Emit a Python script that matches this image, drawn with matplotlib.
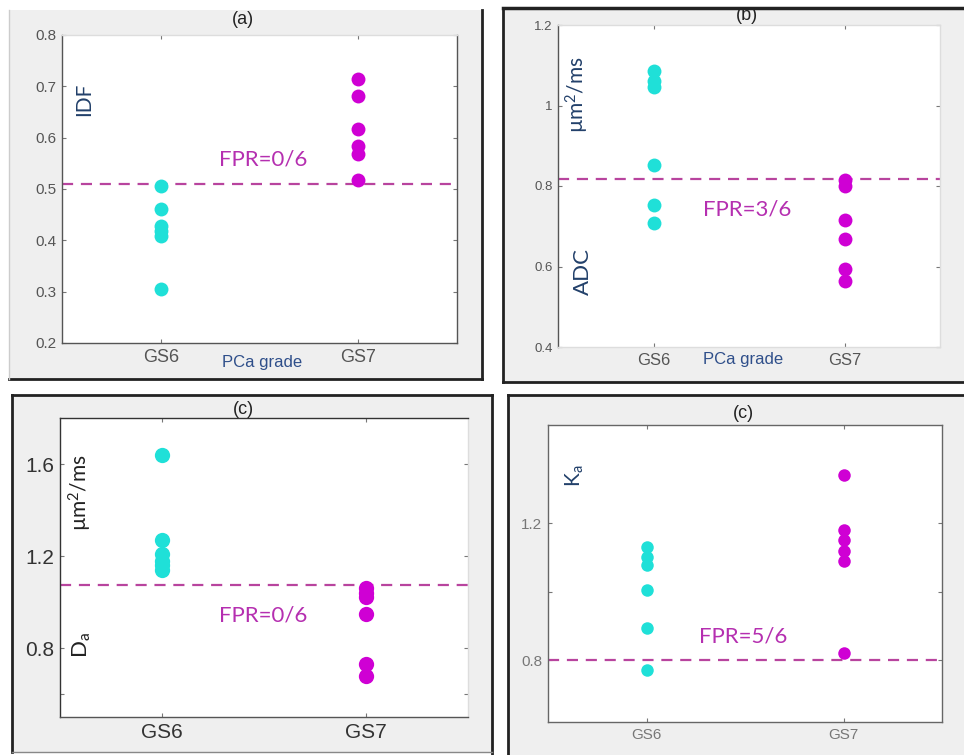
import matplotlib
matplotlib.use("Agg")
import matplotlib.pyplot as plt
from matplotlib.patches import Rectangle
from matplotlib.lines import Line2D

W, H = 964, 755

groups = ["GS6", "GS7"]
cyan = "#1fe0d8"
magenta = "#cf00d4"
dash_col = "#b8449e"
lab_col = "#22406a"

# (a) IDF
idf_gs6 = [0.505, 0.462, 0.428, 0.418, 0.408, 0.305]
idf_gs7 = [0.715, 0.681, 0.617, 0.583, 0.569, 0.517]
idf_thr = 0.51
# (b) ADC
adc_gs6 = [1.085, 1.06, 1.045, 0.851, 0.754, 0.707]
adc_gs7 = [0.815, 0.80, 0.715, 0.668, 0.595, 0.565]
adc_thr = 0.817
# (c) Da
da_gs6 = [1.64, 1.27, 1.21, 1.18, 1.16, 1.14]
da_gs7 = [1.06, 1.04, 1.02, 0.948, 0.73, 0.68]
da_thr = 1.074
# (d) Ka
ka_gs6 = [1.13, 1.10, 1.077, 1.004, 0.893, 0.771]
ka_gs7 = [1.34, 1.18, 1.15, 1.12, 1.09, 0.82]
ka_thr = 0.80

plt.rcParams["mathtext.fontset"] = "custom"
plt.rcParams["mathtext.rm"] = "Lato"
plt.rcParams["mathtext.it"] = "Lato"

unit_txt = "\u00b5m$^\\mathregular{2}$/ms"


def px_rect(x0, y0, x1, y1):
    return [x0 / W, 1 - y1 / H, (x1 - x0) / W, (y1 - y0) / H]


fig = plt.figure(figsize=(W / 100, H / 100), dpi=100)
fig.patch.set_facecolor("white")

# panel backgrounds (grey figure frames)
frames = [(9, 10, 482, 379), (503, 8, 964, 382), (12, 395, 492, 752), (508, 395, 964, 755)]
for x0, y0, x1, y1 in frames:
    fig.patches.append(Rectangle((x0 / W, 1 - y1 / H), (x1 - x0) / W, (y1 - y0) / H,
                                 transform=fig.transFigure, facecolor="#efefef",
                                 edgecolor="none", zorder=-2))


def fline(x0, y0, x1, y1, c="#222222", lw=2):
    fig.lines.append(Line2D([x0 / W, x1 / W], [1 - y0 / H, 1 - y1 / H],
                            transform=fig.transFigure, color=c, lw=lw, zorder=-1))


fline(482, 10, 482, 379)
fline(9, 379, 482, 379)
fline(9, 10, 9, 379, c="#cccccc", lw=1)
fline(503, 8, 964, 8, lw=2.5)
fline(503, 8, 503, 382)
fline(503, 382, 964, 382)
fline(12, 395, 492, 395)
fline(12, 395, 12, 752)
fline(492, 395, 492, 755)
fline(12, 752, 492, 752, c="#888888", lw=1)
fline(508, 395, 964, 395)
fline(508, 395, 508, 755)


def panel(rect, g6, g7, thr, ylim, yticks, yticklabels, tick_fs, xt_fs, tick_col,
          ms, title, title_pos, fpr, fpr_pos, fpr_fs):
    ax = fig.add_axes(px_rect(*rect))
    ax.set_facecolor("white")
    ax.plot([1] * len(g6), g6, "o", color=cyan, ms=ms, mec="none", zorder=3)
    ax.plot([2] * len(g7), g7, "o", color=magenta, ms=ms, mec="none", zorder=3)
    ax.axhline(thr, color=dash_col, lw=1.6, ls=(0, (5, 3.5)), zorder=2)
    ax.set_xlim(0.5, 2.5)
    ax.set_ylim(*ylim)
    ax.set_xticks([1, 2])
    ax.set_xticklabels(groups, fontsize=xt_fs, color=tick_col, family="Liberation Sans")
    ax.set_yticks(yticks)
    ax.set_yticklabels(yticklabels, fontsize=tick_fs, color=tick_col, family="Liberation Sans")
    ax.tick_params(direction="in", length=3, width=0.8, top=True, right=True,
                   colors="#777777", pad=4)
    for lab in ax.get_xticklabels() + ax.get_yticklabels():
        lab.set_color(tick_col)
    for s in ax.spines.values():
        s.set_color("#555555")
        s.set_linewidth(1)
    ax.text(title_pos[0], title_pos[1], title, transform=ax.transAxes, ha="center",
            va="center", fontsize=13, color="#222222", family="Liberation Sans")
    ax.text(fpr_pos[0], fpr_pos[1], fpr, ha="center", va="center", fontsize=fpr_fs,
            color="#b52fb0", family="Lato")
    return ax


# (a)
ax_a = panel((62, 35, 457, 343), idf_gs6, idf_gs7, idf_thr, (0.2, 0.8),
             [0.2, 0.3, 0.4, 0.5, 0.6, 0.7, 0.8],
             ["0.2", "0.3", "0.4", "0.5", "0.6", "0.7", "0.8"], 11, 13, "#555555", 10,
             "(a)", (0.458, 1.05), "FPR=0/6", (1.52, 0.558), 16)
ax_a.spines["top"].set_color("#dddddd")
ax_a.text(0.055, 0.79, "IDF", transform=ax_a.transAxes, rotation=90, ha="center",
          va="center", fontsize=15, color=lab_col, family="Lato")
ax_a.text(0.506, -0.062, "PCa grade", transform=ax_a.transAxes, ha="center",
          va="center", fontsize=12, color="#2f4f8a", family="Liberation Sans")

# (b)
ax_b = panel((558, 25, 940, 347), adc_gs6, adc_gs7, adc_thr, (0.4, 1.2),
             [0.4, 0.6, 0.8, 1.0, 1.2], ["0.4", "0.6", "0.8", "1", "1.2"], 9.5, 12,
             "#555555", 10, "(b)", (0.495, 1.03), "FPR=3/6", (1.49, 0.742), 16)
for k in ["top", "right", "bottom"]:
    ax_b.spines[k].set_color("#dddddd")
ax_b.text(0.052, 0.785, unit_txt, transform=ax_b.transAxes, rotation=90,
          ha="center", va="center", fontsize=15, color=lab_col, family="Lato")
ax_b.text(0.065, 0.233, "ADC", transform=ax_b.transAxes, rotation=90, ha="center",
          va="center", fontsize=16, color=lab_col, family="Lato")
ax_b.text(0.484, -0.04, "PCa grade", transform=ax_b.transAxes, ha="center",
          va="center", fontsize=12, color="#2f4f8a", family="Liberation Sans")

# (c)
ax_c = panel((60, 418, 468, 717), da_gs6, da_gs7, da_thr, (0.5, 1.8),
             [0.6, 0.8, 1.2, 1.6], ["", "0.8", "1.2", "1.6"], 15, 15, "#333333", 11,
             "(c)", (0.449, 1.027), "FPR=0/6", (1.495, 0.943), 16)
ax_c.spines["right"].set_color("#dddddd")
ax_c.spines["top"].set_color("#333333")
ax_c.spines["left"].set_color("#333333")
ax_c.text(0.049, 0.75, unit_txt, transform=ax_c.transAxes, rotation=90,
          ha="center", va="center", fontsize=15, color="#222222", family="Lato")
ax_c.text(0.054, 0.24, "D$_\\mathregular{a}$", transform=ax_c.transAxes, rotation=90,
          ha="center", va="center", fontsize=16, color="#222222", family="Lato")

# (d)
ax_d = panel((548, 425, 942, 722), ka_gs6, ka_gs7, ka_thr, (0.62, 1.486),
             [0.8, 1.0, 1.2], ["0.8", "", "1.2"], 11, 11, "#777777", 9,
             "(c)", (0.495, 1.04), "FPR=5/6", (1.49, 0.868), 16)
for s in ax_d.spines.values():
    s.set_color("#666666")
ax_d.text(0.069, 0.83, "K$_\\mathregular{a}$", transform=ax_d.transAxes, rotation=90,
          ha="center", va="center", fontsize=15, color=lab_col, family="Lato")

fig.savefig("out.png", dpi=100)
